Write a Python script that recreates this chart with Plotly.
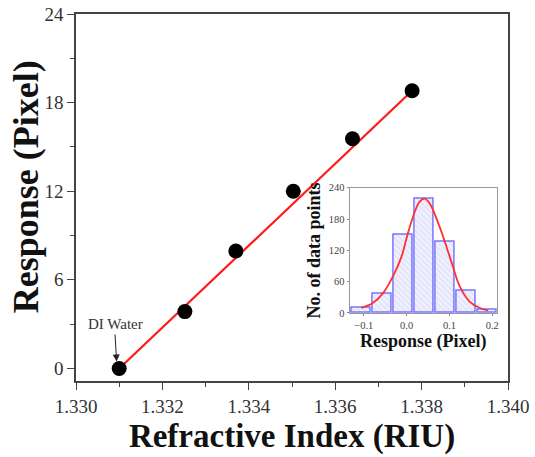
import plotly.graph_objects as go

# Calibration data: response vs refractive index
ri = [1.3310, 1.33252, 1.33370, 1.33503, 1.33640, 1.33778]
response = [0.0, 3.85, 7.95, 12.0, 15.55, 18.8]

# Linear fit end points
fit_x = [1.3310, 1.33778]
fit_y = [0.0, 18.8]

# Histogram of repeated measurements (inset)
bin_centers = [-0.106, -0.057, -0.008, 0.041, 0.090, 0.139, 0.188]
counts = [10, 36, 150, 218, 136, 43, 6]
bin_width = 0.046

# Gaussian fit curve, read point by point
gauss_x = [-0.106, -0.079, -0.055, -0.032, -0.012, 0.003, 0.019, 0.030, 0.042,
           0.054, 0.077, 0.093, 0.108, 0.124, 0.147, 0.171, 0.190]
gauss_y = [9.6, 19, 38, 70, 108, 153, 194, 213, 219,
           210, 165, 127, 89, 51, 22, 9.6, 5]

FONT = "Liberation Serif"

fig = go.Figure()

fig.add_trace(go.Scatter(
    x=fit_x, y=fit_y, mode="lines",
    line=dict(color="#ff1a1a", width=2.2),
    xaxis="x", yaxis="y", showlegend=False, hoverinfo="skip"))

fig.add_trace(go.Scatter(
    x=ri, y=response, mode="markers",
    marker=dict(color="black", size=15),
    xaxis="x", yaxis="y", showlegend=False))

fig.add_trace(go.Bar(
    x=bin_centers, y=counts, width=bin_width,
    marker=dict(color="#eeeeff",
                line=dict(color="#7777ff", width=1.5),
                pattern=dict(shape="\\", fgcolor="#c4c4f0", bgcolor="#f0f0ff",
                             size=4, solidity=0.25)),
    xaxis="x2", yaxis="y2", showlegend=False))

fig.add_trace(go.Scatter(
    x=gauss_x, y=gauss_y, mode="lines", line_shape="spline",
    line=dict(color="#ff3030", width=1.8),
    xaxis="x2", yaxis="y2", showlegend=False, hoverinfo="skip"))

fig.update_layout(
    width=535, height=457,
    margin=dict(l=76, r=26.5, t=13.5, b=75.5, autoexpand=False),
    paper_bgcolor="white", plot_bgcolor="white",
    font=dict(family=FONT, color="#222"),
    xaxis=dict(
        domain=[0, 1], range=[1.330, 1.340], dtick=0.002, tick0=1.330,
        tickformat=".3f", ticks="outside", ticklen=7, tickwidth=1.3,
        tickcolor="#444", showline=True, linecolor="#444", linewidth=1.6,
        mirror=True, showgrid=False, zeroline=False, automargin=False,
        tickfont=dict(size=19, family=FONT, color="#333"),
        minor=dict(dtick=0.001, ticks="outside", ticklen=4, tickcolor="#444",
                   showgrid=False),
        title=dict(text="<b>Refractive Index (RIU)</b>",
                   font=dict(size=33, family=FONT, color="#111"), standoff=8),
    ),
    yaxis=dict(
        domain=[0, 1], range=[-0.85, 24], dtick=6, tick0=0,
        ticks="outside", ticklen=7, tickwidth=1.3, tickcolor="#444",
        showline=True, linecolor="#444", linewidth=1.6, mirror=True,
        showgrid=False, zeroline=False, automargin=False,
        tickfont=dict(size=19, family=FONT, color="#333"),
        minor=dict(dtick=3, ticks="outside", ticklen=4, tickcolor="#444",
                   showgrid=False),
    ),
    xaxis2=dict(
        domain=[0.6335, 0.9746], range=[-0.133, 0.211], anchor="y2",
        dtick=0.1, tick0=0, tickformat=".1f", ticks="outside", ticklen=2,
        tickcolor="#888", showline=True, linecolor="#999", linewidth=1.2,
        mirror=True, showgrid=False, zeroline=False, automargin=False,
        tickfont=dict(size=10.5, family=FONT, color="#444"),
        title=dict(text="<b>Response (Pixel)</b>",
                   font=dict(size=18, family=FONT, color="#111"), standoff=1),
    ),
    yaxis2=dict(
        domain=[0.1853, 0.5266], range=[0, 240], anchor="x2",
        dtick=60, ticks="outside", ticklen=2, tickcolor="#888",
        showline=True, linecolor="#999", linewidth=1.2, mirror=True,
        showgrid=False, zeroline=False, automargin=False,
        tickfont=dict(size=10.5, family=FONT, color="#444"),
        title=dict(text="<b>No. of data points</b>",
                   font=dict(size=18, family=FONT, color="#111"), standoff=3),
    ),
    bargap=0,
    annotations=[
        dict(text="<b>Response (Pixel)</b>", textangle=-90,
             xref="paper", yref="paper", x=0, y=0.528,
             xanchor="center", yanchor="middle",
             xshift=-50, showarrow=False,
             font=dict(size=36, family=FONT, color="#111")),
        dict(text="DI Water", xref="x", yref="y", x=1.33095, y=0,
             ax=-2, ay=-34, yanchor="bottom", showarrow=True,
             arrowhead=2, arrowsize=1.4, arrowwidth=1, arrowcolor="#222",
             standoff=7, font=dict(size=15, family=FONT, color="#333")),
    ],
)

fig.write_html("out.html")
